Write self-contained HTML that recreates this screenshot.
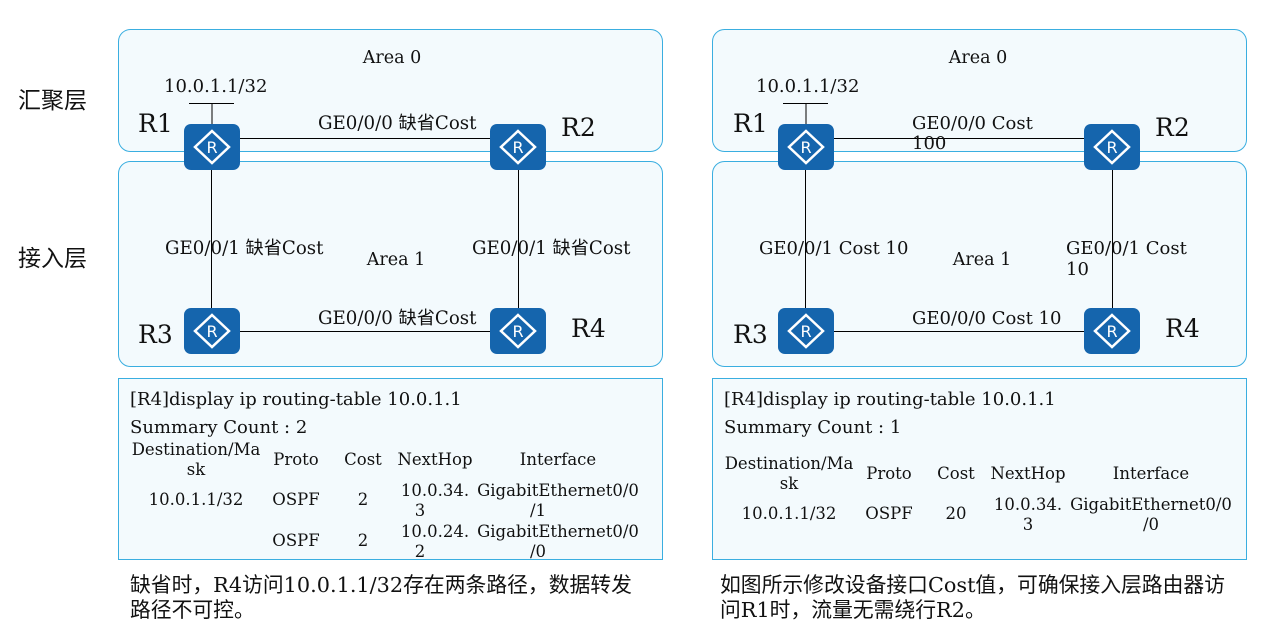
<!DOCTYPE html>
<html><head><meta charset="utf-8"><style>
body{margin:0;background:#fff;width:1286px;height:624px;overflow:hidden}
text{font-family:"DejaVu Serif","Liberation Serif","Noto Sans CJK SC",serif;fill:#111}
.cn{font-family:"DejaVu Serif","Noto Sans CJK SC",sans-serif}
</style></head><body>
<svg width="1286" height="624" xmlns="http://www.w3.org/2000/svg">
<defs>
<g id="rt">
<rect x="-28" y="-23" width="56" height="46" rx="7" fill="#1565ad"/>
<path d="M0,-16 L17,0 L0,16 L-17,0Z" fill="none" stroke="#fff" stroke-width="2.5"/>
<text x="0" y="6" text-anchor="middle" style="font-family:'DejaVu Sans',sans-serif;font-size:16px;fill:#fff">R</text>
</g>
</defs>
<text x="18" y="108" class="cn" font-size="23">汇聚层</text>
<text x="18" y="266" class="cn" font-size="23">接入层</text>

<!-- LEFT -->
<g>
<rect x="118.5" y="29.5" width="544" height="122" rx="12" fill="#f3fafd" stroke="#3aaee0"/>
<rect x="118.5" y="161.5" width="544" height="205" rx="12" fill="#f3fafd" stroke="#3aaee0"/>
<text x="392" y="63" text-anchor="middle" font-size="17.5">Area 0</text>
<text x="396" y="265" text-anchor="middle" font-size="17.5">Area 1</text>
<line x1="212" y1="103" x2="212" y2="147" stroke="#000"/>
<line x1="189" y1="103.5" x2="234" y2="103.5" stroke="#000"/>
<line x1="212" y1="138.5" x2="518" y2="138.5" stroke="#000"/>
<line x1="212" y1="331.5" x2="518" y2="331.5" stroke="#000"/>
<line x1="211.5" y1="147" x2="211.5" y2="331" stroke="#000"/>
<line x1="518.5" y1="147" x2="518.5" y2="331" stroke="#000"/>
<use href="#rt" x="212" y="147"/><use href="#rt" x="518" y="147"/>
<use href="#rt" x="212" y="331"/><use href="#rt" x="518" y="331"/>
<text x="164" y="92" font-size="18">10.0.1.1/32</text>
<text x="138" y="132" font-size="25">R1</text>
<text x="561" y="136" font-size="25">R2</text>
<text x="138" y="343" font-size="25">R3</text>
<text x="571" y="337" font-size="25">R4</text>
<text x="318" y="129" class="cn" font-size="18.2">GE0/0/0 缺省Cost</text>
<text x="318" y="324" class="cn" font-size="18.2">GE0/0/0 缺省Cost</text>
<text x="165" y="254" class="cn" font-size="18.2">GE0/0/1 缺省Cost</text>
<text x="472" y="254" class="cn" font-size="18.2">GE0/0/1 缺省Cost</text>
<rect x="118.5" y="378.5" width="544" height="181" fill="#f3fafd" stroke="#3aaee0"/>
<text x="130" y="405" font-size="18">[R4]display ip routing-table 10.0.1.1</text>
<text x="130" y="433" font-size="18">Summary Count : 2</text>
<g font-size="16.5" text-anchor="middle">
<text x="196" y="455">Destination/Ma</text><text x="196" y="475">sk</text>
<text x="296" y="465">Proto</text><text x="363" y="465">Cost</text><text x="435" y="465">NextHop</text><text x="558" y="465">Interface</text>
<text x="196" y="505">10.0.1.1/32</text><text x="296" y="505">OSPF</text><text x="363" y="505">2</text>
<text x="435" y="496">10.0.34.</text><text x="420" y="516">3</text>
<text x="558" y="496">GigabitEthernet0/0</text><text x="538" y="516">/1</text>
<text x="296" y="546">OSPF</text><text x="363" y="546">2</text>
<text x="435" y="537">10.0.24.</text><text x="420" y="557">2</text>
<text x="558" y="537">GigabitEthernet0/0</text><text x="538" y="557">/0</text>
</g>
<text x="130" y="592" class="cn" font-size="20.8">缺省时，R4访问10.0.1.1/32存在两条路径，数据转发</text>
<text x="130" y="617" class="cn" font-size="20.8">路径不可控。</text>
</g>

<!-- RIGHT -->
<g>
<rect x="712.5" y="29.5" width="534" height="122" rx="12" fill="#f3fafd" stroke="#3aaee0"/>
<rect x="712.5" y="161.5" width="534" height="205" rx="12" fill="#f3fafd" stroke="#3aaee0"/>
<text x="978" y="63" text-anchor="middle" font-size="17.5">Area 0</text>
<text x="982" y="265" text-anchor="middle" font-size="17.5">Area 1</text>
<line x1="806" y1="103" x2="806" y2="147" stroke="#000"/>
<line x1="783" y1="103.5" x2="828" y2="103.5" stroke="#000"/>
<line x1="806" y1="138.5" x2="1112" y2="138.5" stroke="#000"/>
<line x1="806" y1="331.5" x2="1112" y2="331.5" stroke="#000"/>
<line x1="805.5" y1="147" x2="805.5" y2="331" stroke="#000"/>
<line x1="1112.5" y1="147" x2="1112.5" y2="331" stroke="#000"/>
<use href="#rt" x="806" y="147"/><use href="#rt" x="1112" y="147"/>
<use href="#rt" x="806" y="331"/><use href="#rt" x="1112" y="331"/>
<text x="756" y="92" font-size="18">10.0.1.1/32</text>
<text x="733" y="132" font-size="25">R1</text>
<text x="1155" y="136" font-size="25">R2</text>
<text x="733" y="343" font-size="25">R3</text>
<text x="1165" y="337" font-size="25">R4</text>
<text x="912" y="129" font-size="18">GE0/0/0 Cost</text>
<text x="912" y="149" font-size="18">100</text>
<text x="912" y="324" font-size="18">GE0/0/0 Cost 10</text>
<text x="759" y="254" font-size="18">GE0/0/1 Cost 10</text>
<text x="1066" y="254" font-size="18">GE0/0/1 Cost</text>
<text x="1066" y="275" font-size="18">10</text>
<rect x="712.5" y="378.5" width="534" height="181" fill="#f3fafd" stroke="#3aaee0"/>
<text x="724" y="405" font-size="18">[R4]display ip routing-table 10.0.1.1</text>
<text x="724" y="433" font-size="18">Summary Count : 1</text>
<g font-size="16.5" text-anchor="middle">
<text x="789" y="469">Destination/Ma</text><text x="789" y="489">sk</text>
<text x="889" y="479">Proto</text><text x="956" y="479">Cost</text><text x="1028" y="479">NextHop</text><text x="1151" y="479">Interface</text>
<text x="789" y="519">10.0.1.1/32</text><text x="889" y="519">OSPF</text><text x="956" y="519">20</text>
<text x="1028" y="510">10.0.34.</text><text x="1028" y="530">3</text>
<text x="1151" y="510">GigabitEthernet0/0</text><text x="1151" y="530">/0</text>
</g>
<text x="720" y="592" class="cn" font-size="20.8">如图所示修改设备接口Cost值，可确保接入层路由器访</text>
<text x="720" y="617" class="cn" font-size="20.8">问R1时，流量无需绕行R2。</text>
</g>
</svg>
</body></html>
